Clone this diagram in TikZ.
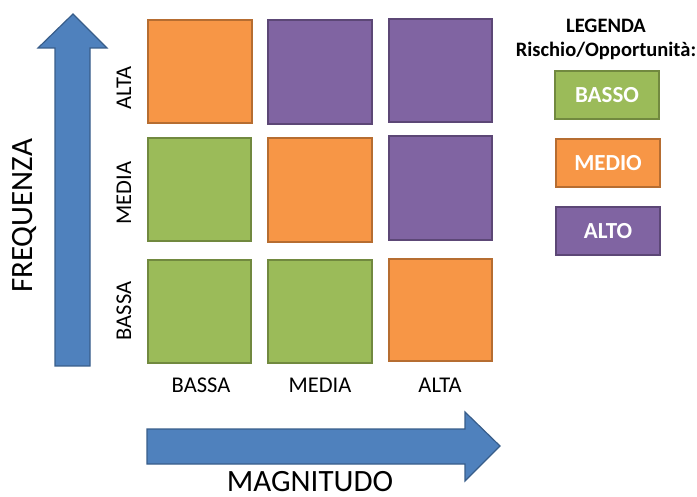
\documentclass[tikz,border=0pt]{standalone}
\usepackage{fontspec}
\setmainfont{Carlito}
\definecolor{cgreen}{HTML}{9BBB59}
\definecolor{cgreenb}{HTML}{71893F}
\definecolor{corange}{HTML}{F79646}
\definecolor{coranb}{HTML}{B66D31}
\definecolor{cpurple}{HTML}{8064A2}
\definecolor{cpurpb}{HTML}{5C4776}
\definecolor{cblue}{HTML}{4F81BD}
\definecolor{cblueb}{HTML}{385D8A}
\tikzset{
  cell/.style={line width=2pt},
  gcell/.style={cell, fill=cgreen, draw=cgreenb},
  ocell/.style={cell, fill=corange, draw=coranb},
  pcell/.style={cell, fill=cpurple, draw=cpurpb},
  bigarrow/.style={fill=cblue, draw=cblueb, line width=1.2pt, line join=miter},
  axlab/.style={font=\fontsize{22.5}{25}\selectfont, text=black, inner sep=0pt},
  bigtitle/.style={font=\fontsize{31}{34}\selectfont, text=black, inner sep=0pt},
  legtext/.style={font=\bfseries\fontsize{20.5}{24}\selectfont, text=black, inner sep=0pt},
  legbox/.style={cell, minimum width=104pt, minimum height=48pt, inner sep=0pt, text=white, font=\bfseries\fontsize{23}{26}\selectfont}
}
\begin{document}
\begin{tikzpicture}[x=1pt,y=-1pt]
\useasboundingbox (0,0) rectangle (697,497);
% vertical arrow
\draw[bigarrow] (55,366) -- (55,48) -- (38,48) -- (73,14) -- (107,48) -- (90,48) -- (90,366) -- cycle;
% horizontal arrow
\draw[bigarrow] (147,429) -- (465,429) -- (465,412) -- (500,446) -- (465,481) -- (465,464) -- (147,464) -- cycle;
% grid cells
\draw[ocell] (148,20) rectangle (252,123);
\draw[pcell] (268,20) rectangle (372,124);
\draw[pcell] (389,19) rectangle (492,122);
\draw[gcell] (148,138) rectangle (251,241);
\draw[ocell] (268,138) rectangle (372,242);
\draw[pcell] (389,136) rectangle (492,240);
\draw[gcell] (148,260) rectangle (251,363);
\draw[gcell] (268,260) rectangle (372,363);
\draw[ocell] (389,259) rectangle (492,361);
% row labels
\node[axlab, rotate=90] (ralta) at (124,88) {ALTA};
\node[axlab, rotate=90] (rmedia) at (124,193) {MEDIA};
\node[axlab, rotate=90] (rbassa) at (124,311) {BASSA};
% column labels
\node[axlab] (cbassa) at (201,385) {BASSA};
\node[axlab] (cmedia) at (320,385) {MEDIA};
\node[axlab] (calta) at (440,385) {ALTA};
% axis titles
\node[bigtitle, rotate=90] (freq) at (24,216) {FREQUENZA};
\node[bigtitle, anchor=base] (magn) at (310,491) {MAGNITUDO};
% legend
\node[legtext] (leg1) at (606,26) {LEGENDA};
\node[legtext] (leg2) at (606,51) {Rischio/Opportunità:};
\node[legbox, fill=cgreen, draw=cgreenb] (lbasso) at (607,95.5) {BASSO};
\node[legbox, fill=corange, draw=coranb] (lmedio) at (608,163) {MEDIO};
\node[legbox, fill=cpurple, draw=cpurpb] (lalto) at (608,231.5) {ALTO};
\end{tikzpicture}
\end{document}
